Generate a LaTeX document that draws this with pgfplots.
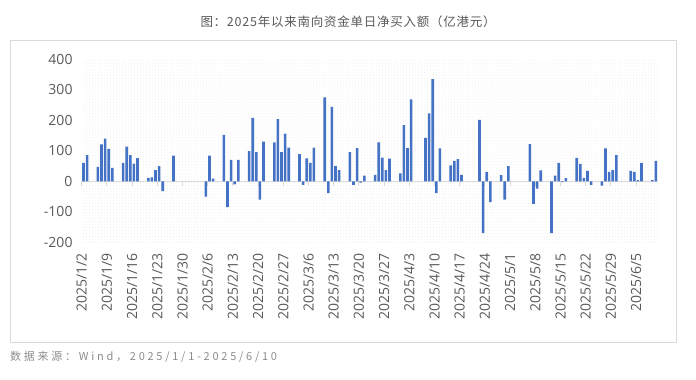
\documentclass[border=0pt]{standalone}
\usepackage{fontspec}
\setmainfont{Open Sans}
\newfontfamily\cjk[LetterSpace=6]{Noto Sans CJK SC}
\newfontfamily\cjksrc[LetterSpace=25]{Noto Sans CJK SC}
\usepackage{pgfplots}
\pgfplotsset{compat=1.18}
\usetikzlibrary{patterns}
\definecolor{barblue}{RGB}{68,114,196}
\definecolor{lbl}{RGB}{89,89,89}
\definecolor{srcc}{RGB}{140,140,140}
\definecolor{framec}{RGB}{217,217,217}
\begin{document}
\begin{tikzpicture}
\path[use as bounding box] (0,0) rectangle (696bp,380bp);
\draw[framec, line width=0.8bp] (10bp,38bp) rectangle (676bp,339.5bp);
\begin{axis}[
  at={(81.7bp,137.7bp)}, anchor=south west,
  scale only axis, width=576bp, height=183bp,
  xmin=0, xmax=160, ymin=-200, ymax=400,
  axis line style={draw=none},
  axis background/.style={pattern=dots, pattern color=black!8},
  ytick={-200,-100,...,400},
  yticklabels={-200,-100,0,100,200,300,400},
  xtick={0,7,...,154},
  xticklabels={2025/1/2,2025/1/9,2025/1/16,2025/1/23,2025/1/30,2025/2/6,2025/2/13,2025/2/20,2025/2/27,2025/3/6,2025/3/13,2025/3/20,2025/3/27,2025/4/3,2025/4/10,2025/4/17,2025/4/24,2025/5/1,2025/5/8,2025/5/15,2025/5/22,2025/5/29,2025/6/5},
  major tick length=0pt,
  yticklabel style={anchor=east, inner sep=0pt, font=\fontsize{14bp}{16bp}\selectfont, text=lbl},
  yticklabel shift=9bp,
  xticklabel style={rotate=90, anchor=east, inner sep=0pt, font=\fontsize{14bp}{16bp}\selectfont, text=lbl},
  xticklabel shift=10.7bp,
  ybar, bar width=2.6bp, bar shift=0pt,
  clip=false,
]
\draw[framec, line width=1bp] (axis cs:0,0) -- (axis cs:160,0);
\pgfplotsinvokeforeach{0,7,...,154}{\draw[framec, line width=1bp] (axis cs:#1,0) -- (axis cs:#1,-17);}
\addplot[fill=barblue, draw=none] coordinates {
(0.5,60) (1.5,86) (4.5,47) (5.5,121) (6.5,140) (7.5,106) (8.5,44)
(11.5,60) (12.5,114) (13.5,86) (14.5,58) (15.5,76)
(18.5,11) (19.5,13) (20.5,37) (21.5,50) (22.5,-32) (25.5,84)
(34.5,-50) (35.5,84) (36.5,9)
(39.5,152) (40.5,-85) (41.5,70) (42.5,-10) (43.5,70)
(46.5,99) (47.5,208) (48.5,96) (49.5,-60) (50.5,130)
(53.5,128) (54.5,204) (55.5,96) (56.5,156) (57.5,110)
(60.5,89) (61.5,-12) (62.5,75) (63.5,60) (64.5,110)
(67.5,275) (68.5,-39) (69.5,244) (70.5,50) (71.5,37)
(74.5,96) (75.5,-12) (76.5,109) (77.5,-4) (78.5,19)
(81.5,21) (82.5,128) (83.5,78) (84.5,37) (85.5,74)
(88.5,26) (89.5,184) (90.5,109) (91.5,269)
(95.5,142) (96.5,223) (97.5,335) (98.5,-39) (99.5,108)
(102.5,52) (103.5,67) (104.5,73) (105.5,21)
(110.5,201) (111.5,-170) (112.5,31) (113.5,-68)
(116.5,20) (117.5,-60) (118.5,50)
(124.5,122) (125.5,-74) (126.5,-24) (127.5,36)
(130.5,-170) (131.5,19) (132.5,60) (133.5,-3) (134.5,10)
(137.5,77) (138.5,57) (139.5,11) (140.5,34) (141.5,-12)
(144.5,-14) (145.5,108) (146.5,31) (147.5,37) (148.5,86)
(152.5,34) (153.5,31) (154.5,4) (155.5,60)
(158.5,4) (159.5,67)
};
\end{axis}
\node[text=lbl, font=\fontsize{12.5bp}{14bp}\selectfont] at (348bp,358bp) {\cjk 图：2025年以来南向资金单日净买入额（亿港元）};
\node[anchor=west, inner sep=0pt, text=srcc, font=\fontsize{11bp}{13bp}\selectfont] at (10bp,23bp) {\cjksrc 数据来源：Wind，2025/1/1-2025/6/10};
\end{tikzpicture}
\end{document}
